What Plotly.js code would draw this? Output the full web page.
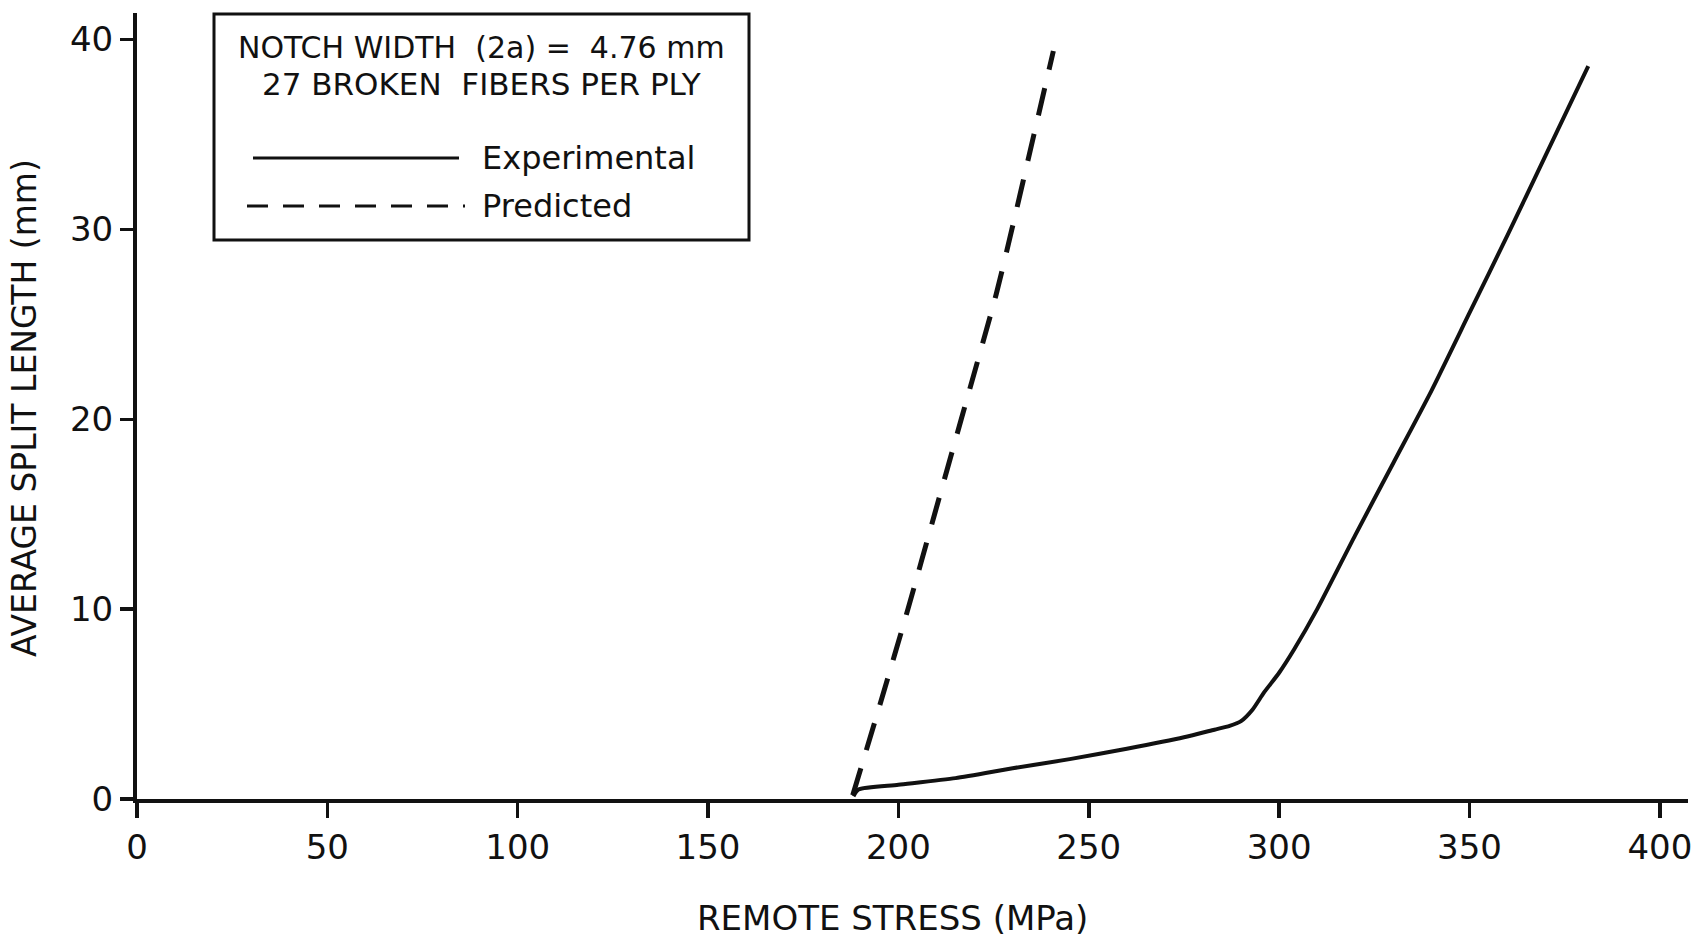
<!DOCTYPE html>
<html>
<head>
<meta charset="utf-8">
<script src="https://cdn.plot.ly/plotly-3.0.1.min.js"></script>
<style>
  html, body { margin: 0; padding: 0; background: #fff; }
  #chart { width: 1707px; height: 938px; }
</style>
</head>
<body>
<div id="chart"></div>
<script>
// ---- Data ----
const expStress = [188.2, 189.5, 200, 215, 230, 245, 260, 275, 283, 287, 290, 293, 296, 300, 304, 310, 320, 330, 340, 350, 360, 370, 381.2];
const expSplit  = [0.15, 0.5, 0.75, 1.1, 1.62, 2.1, 2.65, 3.25, 3.65, 3.85, 4.1, 4.7, 5.6, 6.65, 7.9, 10.0, 13.9, 17.7, 21.5, 25.6, 29.7, 33.9, 38.6];

const predStress = [188, 195.2, 202.5, 209.5, 216.5, 225.7, 229.8, 235.6, 240.7];
const predSplit  = [0.2, 5, 10, 15, 20, 26.6, 30, 35, 39.4];

const xTicks = [0, 50, 100, 150, 200, 250, 300, 350, 400];
const yTicks = [0, 10, 20, 30, 40];

const xTitle = "REMOTE STRESS (MPa)";
const yTitle = "AVERAGE SPLIT LENGTH (mm)";
const boxLine1 = "NOTCH WIDTH  (2a) =  4.76 mm";
const boxLine2 = "27 BROKEN  FIBERS PER PLY";
const seriesNames = ["Experimental", "Predicted"];

// ---- Layout geometry (pixels) ----
const W = 1707, H = 938;
const L = 137, R = 1688, T = 13, B = 799;
const pw = R - L, ph = B - T;
const px = v => (v - L) / pw;       // pixel x -> paper
const py = v => (B - v) / ph;       // pixel y -> paper

const FONT = "DejaVu Sans";
const INK = "#111";

const traces = [
  {
    x: expStress, y: expSplit, name: seriesNames[0],
    type: "scatter", mode: "lines",
    line: { color: INK, width: 4, shape: "spline", smoothing: 0.6 },
    showlegend: false, hoverinfo: "skip"
  },
  {
    x: predStress, y: predSplit, name: seriesNames[1],
    type: "scatter", mode: "lines",
    line: { color: INK, width: 5, dash: "28px,19px", shape: "spline", smoothing: 0.6 },
    showlegend: false, hoverinfo: "skip"
  }
];

const layout = {
  width: W, height: H,
  margin: { l: L, r: W - R, t: T, b: H - B, pad: 0 },
  paper_bgcolor: "#fff", plot_bgcolor: "#fff",
  showlegend: false,
  font: { family: FONT, color: INK },
  xaxis: {
    range: [0, 407.4],
    tickvals: xTicks, ticktext: xTicks.map(String),
    ticks: "outside", ticklen: 15, tickwidth: 3.5, tickcolor: INK,
    showline: true, linewidth: 4, linecolor: INK,
    showgrid: false, zeroline: false,
    tickfont: { family: FONT, size: 34, color: INK },
    fixedrange: true
  },
  yaxis: {
    range: [0, 41.4],
    tickvals: yTicks, ticktext: yTicks.map(String),
    ticks: "outside", ticklen: 13, tickwidth: 3.5, tickcolor: INK,
    showline: true, linewidth: 4, linecolor: INK,
    showgrid: false, zeroline: false,
    tickfont: { family: FONT, size: 34, color: INK },
    fixedrange: true
  },
  shapes: [
    // legend / note box
    { type: "rect", xref: "paper", yref: "paper",
      x0: px(214), x1: px(749), y0: py(240), y1: py(14),
      line: { color: INK, width: 3 }, fillcolor: "rgba(0,0,0,0)" },
    // legend sample: solid
    { type: "line", xref: "paper", yref: "paper",
      x0: px(253), x1: px(459), y0: py(158), y1: py(158),
      line: { color: INK, width: 3 } },
    // legend sample: dashed
    { type: "line", xref: "paper", yref: "paper",
      x0: px(247), x1: px(465), y0: py(206), y1: py(206),
      line: { color: INK, width: 3, dash: "21px,15px" } }
  ],
  annotations: [
    { text: boxLine1, xref: "paper", yref: "paper", x: px(481), y: py(47),
      xanchor: "center", yanchor: "middle", showarrow: false,
      font: { family: FONT, size: 30, color: INK } },
    { text: boxLine2, xref: "paper", yref: "paper", x: px(481), y: py(84),
      xanchor: "center", yanchor: "middle", showarrow: false,
      font: { family: FONT, size: 31, color: INK } },
    { text: seriesNames[0], xref: "paper", yref: "paper", x: px(480), y: py(158),
      xanchor: "left", yanchor: "middle", showarrow: false,
      font: { family: FONT, size: 32, color: INK } },
    { text: seriesNames[1], xref: "paper", yref: "paper", x: px(480), y: py(206),
      xanchor: "left", yanchor: "middle", showarrow: false,
      font: { family: FONT, size: 32, color: INK } },
    { text: xTitle, xref: "paper", yref: "paper", x: px(892), y: py(918),
      xanchor: "center", yanchor: "middle", showarrow: false,
      font: { family: FONT, size: 34, color: INK } },
    { text: yTitle, xref: "paper", yref: "paper", x: px(24), y: py(408),
      xanchor: "center", yanchor: "middle", showarrow: false, textangle: -90,
      font: { family: FONT, size: 33, color: INK } }
  ]
};

Plotly.newPlot("chart", traces, layout, { displayModeBar: false, staticPlot: true });
</script>
</body>
</html>
